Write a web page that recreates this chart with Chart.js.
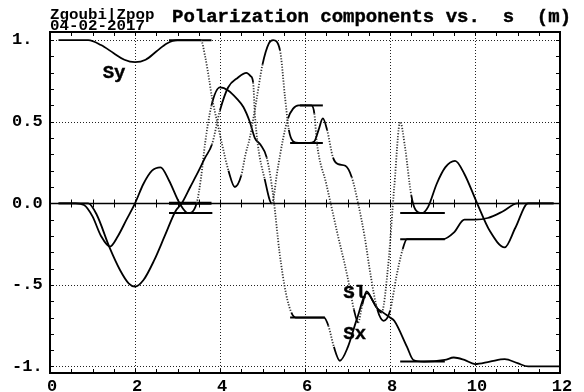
<!DOCTYPE html>
<html>
<head>
<meta charset="utf-8">
<script src="https://cdn.jsdelivr.net/npm/chart.js@4.4.0/dist/chart.umd.min.js"></script>
<style>
  html, body { margin: 0; padding: 0; background: #fff; }
</style>
</head>
<body>
<canvas id="chart" width="584" height="392"></canvas>
<script>
const sySPos = [0.2, 0.9, 1.2, 1.5, 1.75, 2.0, 2.25, 2.5, 2.75, 3.0, 3.55, 3.65, 3.75, 3.81, 3.95, 4.05, 4.2, 4.35, 4.5, 4.6, 4.7, 4.85, 5.0, 5.15, 5.25, 5.41, 5.53, 5.62, 5.72, 5.85, 6.1, 6.22, 6.32, 6.42, 6.52, 6.66, 6.78, 6.95, 7.1, 7.25, 7.4, 7.55, 7.7, 7.85, 8.0, 8.15, 8.3, 8.4, 9.25, 9.5, 9.75, 10.0, 10.3, 10.65, 11.0, 11.85];
const syVals = [1.0, 1.0, 0.97, 0.92, 0.88, 0.865, 0.88, 0.93, 0.98, 1.0, 1.0, 0.9, 0.75, 0.65, 0.48, 0.36, 0.2, 0.1, 0.17, 0.3, 0.4, 0.62, 0.85, 0.98, 1.0, 0.94, 0.65, 0.45, 0.38, 0.37, 0.37, 0.38, 0.45, 0.52, 0.45, 0.28, 0.24, 0.23, 0.16, 0.0, -0.2, -0.45, -0.65, -0.72, -0.66, -0.45, -0.28, -0.22, -0.22, -0.18, -0.1, -0.1, -0.09, -0.05, 0.0, 0.0];

const slSPos = [0.2, 0.9, 1.1, 1.4, 1.65, 1.85, 2.0, 2.2, 2.45, 2.7, 2.95, 3.1, 3.3, 3.5, 3.65, 3.81, 4.0, 4.19, 4.42, 4.62, 4.72, 4.78, 4.82, 4.89, 5.05, 5.22, 5.35, 5.48, 5.6, 5.72, 5.85, 6.15, 6.22, 6.28, 6.5, 6.75, 7.0, 7.15, 7.25, 7.35, 7.45, 7.6, 7.8, 7.95, 8.1, 8.24, 8.35, 8.5, 8.6, 8.75, 8.9, 9.1, 9.3, 9.53, 9.75, 10.05, 10.35, 10.7, 10.95, 11.25, 11.85];
const slVals = [0.0, 0.0, -0.07, -0.27, -0.41, -0.49, -0.51, -0.47, -0.35, -0.2, -0.05, 0.0, 0.1, 0.2, 0.28, 0.36, 0.57, 0.71, 0.77, 0.8, 0.78, 0.74, 0.55, 0.36, 0.15, 0.0, 0.2, 0.39, 0.52, 0.58, 0.6, 0.6, 0.55, 0.37, 0.12, -0.17, -0.45, -0.65, -0.73, -0.62, -0.54, -0.6, -0.67, -0.4, 0.1, 0.5, 0.35, 0.05, -0.04, -0.06, -0.02, 0.12, 0.22, 0.26, 0.18, 0.0, -0.17, -0.27, -0.15, 0.0, 0.0];

const sxSPos = [0.2, 0.6, 0.8, 1.0, 1.2, 1.41, 1.6, 1.8, 2.0, 2.2, 2.4, 2.6, 2.8, 3.05, 3.25, 3.45, 3.55, 3.65, 3.8, 4.0, 4.2, 4.4, 4.55, 4.7, 4.82, 4.95, 5.1, 5.25, 5.4, 5.55, 5.68, 5.78, 6.45, 6.55, 6.68, 6.82, 7.01, 7.22, 7.46, 7.69, 7.84, 8.0, 8.1, 8.4, 8.55, 8.8, 9.29, 9.5, 9.75, 10.0, 10.35, 10.7, 11.0, 11.25, 12.0];
const sxVals = [0.0, 0.0, -0.01, -0.08, -0.2, -0.265, -0.2, -0.1, 0.0, 0.12, 0.2, 0.22, 0.14, 0.0, -0.06, 0.0, 0.15, 0.37, 0.6, 0.71, 0.69, 0.64, 0.59, 0.5, 0.4, 0.36, 0.28, 0.05, -0.3, -0.55, -0.67, -0.7, -0.7, -0.75, -0.88, -0.965, -0.88, -0.71, -0.55, -0.64, -0.67, -0.7, -0.72, -0.88, -0.96, -0.97, -0.96, -0.945, -0.96, -0.985, -0.97, -0.955, -0.98, -1.0, -1.0];

// short level markers
const barFrom = [2.8, 2.8, 2.8, 5.88, 5.65, 5.65, 8.24, 8.24, 8.24];
const barTo = [3.8, 3.8, 3.82, 6.42, 6.42, 6.47, 9.29, 9.29, 9.29];
const barLevel = [1.0, 0.0, -0.06, 0.6, 0.37, -0.7, -0.06, -0.22, -0.97];

const xTicks = [0, 2, 4, 6, 8, 10, 12];
const yTicks = [-1, -0.5, 0, 0.5, 1];
const yTickText = {"-1": "-1.", "-0.5": "-.5", "0": "0.0", "0.5": "0.5", "1": "1."};

const MONO = "'Liberation Mono', 'DejaVu Sans Mono', monospace";

const toPts = (xs, ys) => xs.map((x, i) => ({ x: x, y: ys[i] }));

// fast-changing parts show up dotted in the original (sparse points)
const steep = (ctx) => {
  const dx = Math.abs(ctx.p1.x - ctx.p0.x);
  const dy = Math.abs(ctx.p1.y - ctx.p0.y);
  return dy > 3.5 * Math.max(dx, 0.001);
};

const curve = (label, xs, ys) => ({
  label: label,
  data: toPts(xs, ys),
  borderColor: "#000",
  borderWidth: 1.8,
  pointRadius: 0,
  fill: false,
  cubicInterpolationMode: "monotone",
  segment: {
    borderDash: (ctx) => (steep(ctx) ? [1.2, 1.6] : undefined),
    borderColor: (ctx) => (steep(ctx) ? "#333" : undefined),
  },
});

const datasets = [
  curve("Sy", sySPos, syVals),
  curve("Sl", slSPos, slVals),
  curve("Sx", sxSPos, sxVals),
];
barLevel.forEach((lv, i) => {
  datasets.push({
    label: "bar" + i,
    data: [{ x: barFrom[i], y: lv }, { x: barTo[i], y: lv }],
    borderColor: "#000",
    borderWidth: i === 1 ? 3 : 2,
    pointRadius: 0,
  });
});

// frame, grid, ticks and texts (positions come from the scales)
const framePlugin = {
  id: "frame",
  beforeDatasetsDraw(chart) {
    const { ctx, chartArea: a, scales } = chart;
    const xs = scales.x, ys = scales.y;
    ctx.save();
    // dotted grid
    ctx.strokeStyle = "#222";
    ctx.lineWidth = 1;
    ctx.setLineDash([1, 2]);
    [2, 4, 6, 8, 10].forEach((v) => {
      const px = Math.round(xs.getPixelForValue(v)) + 0.5;
      ctx.beginPath(); ctx.moveTo(px, a.top); ctx.lineTo(px, a.bottom); ctx.stroke();
    });
    [1, 0.5, -0.5, -1].forEach((v) => {
      const py = Math.round(ys.getPixelForValue(v)) + 0.5;
      ctx.beginPath(); ctx.moveTo(a.left, py); ctx.lineTo(a.right, py); ctx.stroke();
    });
    ctx.setLineDash([]);
    // zero line with ticks
    const y0 = Math.round(ys.getPixelForValue(0)) + 0.5;
    ctx.strokeStyle = "#000";
    ctx.lineWidth = 1.5;
    ctx.beginPath(); ctx.moveTo(a.left, y0); ctx.lineTo(a.right, y0); ctx.stroke();
    ctx.lineWidth = 1;
    for (let v = 0.5; v < 12; v += 0.5) {
      const px = Math.round(xs.getPixelForValue(v)) + 0.5;
      ctx.beginPath(); ctx.moveTo(px, y0 - 4); ctx.lineTo(px, y0 + 4); ctx.stroke();
    }
    // edge ticks
    for (let v = 0.5; v < 12; v += 0.5) {
      const px = Math.round(xs.getPixelForValue(v)) + 0.5;
      ctx.beginPath(); ctx.moveTo(px, a.bottom); ctx.lineTo(px, a.bottom - 4); ctx.stroke();
      ctx.beginPath(); ctx.moveTo(px, a.top); ctx.lineTo(px, a.top + 4); ctx.stroke();
    }
    for (let k = -10; k <= 10; k++) {
      const py = Math.round(ys.getPixelForValue(k / 10)) + 0.5;
      ctx.beginPath(); ctx.moveTo(a.left, py); ctx.lineTo(a.left + 4, py); ctx.stroke();
      ctx.beginPath(); ctx.moveTo(a.right, py); ctx.lineTo(a.right - 4, py); ctx.stroke();
    }
    // frame
    ctx.lineWidth = 2;
    ctx.strokeRect(a.left, a.top, a.right - a.left, a.bottom - a.top);
    ctx.restore();
  },
  afterDraw(chart) {
    const { ctx, scales } = chart;
    ctx.save();
    ctx.fillStyle = "#000";
    ctx.strokeStyle = "#000";
    ctx.lineWidth = 0.4;
    ctx.textBaseline = "alphabetic";
    ctx.font = "bold 19px " + MONO;
    const title = "Polarization components vs.  s  (m)";
    ctx.fillText(title, 172, 22);
    ctx.strokeText(title, 172, 22);
    // small header, slightly wide like the original
    ctx.save();
    ctx.scale(1.13, 1);
    ctx.font = "bold 14px " + MONO;
    ctx.fillText("Zgoubi|Zpop", 50 / 1.13, 19);
    ctx.fillText("04-02-2017", 50 / 1.13, 30);
    ctx.restore();
    ctx.font = "bold 19px " + MONO;
    const lab = (t, s, v) => {
      const px = scales.x.getPixelForValue(s), py = scales.y.getPixelForValue(v);
      ctx.fillText(t, px, py);
      ctx.strokeText(t, px, py);
    };
    lab("Sy", 1.24, 0.77);
    lab("Sl", 6.9, -0.58);
    lab("Sx", 6.9, -0.83);
    ctx.restore();
  },
};

new Chart(document.getElementById("chart"), {
  type: "line",
  data: { datasets: datasets },
  options: {
    responsive: false,
    animation: false,
    devicePixelRatio: 1,
    layout: { padding: { left: 12, right: 24, top: 32, bottom: 0 } },
    plugins: { legend: { display: false }, tooltip: { enabled: false }, title: { display: false } },
    scales: {
      x: {
        type: "linear",
        min: 0,
        max: 12,
        afterBuildTicks: (s) => { s.ticks = xTicks.map((v) => ({ value: v })); },
        afterFit: (s) => { s.height = 19; },
        grid: { display: false, drawTicks: false },
        border: { display: false },
        ticks: { color: "#000", padding: 4, labelOffset: 2, maxRotation: 0, font: { family: MONO, size: 17, weight: "bold" } },
      },
      y: {
        type: "linear",
        min: -1.04,
        max: 1.05,
        afterBuildTicks: (s) => { s.ticks = yTicks.map((v) => ({ value: v })); },
        afterFit: (s) => { s.width = 38; },
        grid: { display: false, drawTicks: false },
        border: { display: false },
        ticks: {
          color: "#000",
          crossAlign: "far",
          font: { family: MONO, size: 17, weight: "bold" },
          callback: (v) => yTickText[String(v)],
        },
      },
    },
  },
  plugins: [framePlugin],
});
</script>
</body>
</html>
